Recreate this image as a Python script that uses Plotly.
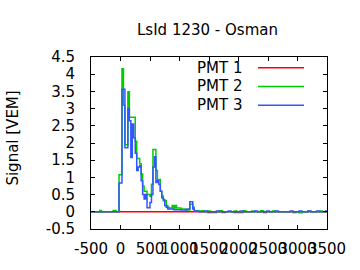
import plotly.graph_objects as go

# ---- data ----
time_ns = [
    -500, -350, -325, -125, -75,
    -25, 0, 25, 50, 75, 100, 125, 150, 175, 200,
    225, 250, 275, 300, 325, 350, 375, 400, 425, 450,
    475, 500, 525, 550, 575, 600, 625, 650, 675, 700,
    725, 750, 775, 800, 825, 850, 875, 900, 925, 950,
    975, 1000, 1025, 1050, 1075, 1100, 1125, 1150, 1175, 1200,
    1225, 1250,
    1275, 1325, 1375, 1425, 1475, 1525, 1575, 1625, 1675, 1725,
    1775, 1825, 1875, 1925, 1975, 2025, 2075, 2125, 2175, 2225,
    2275, 2325, 2375, 2425, 2475, 2525, 2575, 2625, 2675, 2725,
    2775, 2825, 2875, 2925, 2975, 3025, 3075, 3125, 3175, 3225,
    3275, 3325, 3375, 3425, 3475, 3500,
]

pmt1 = [
    0.0, 0.0, 0.0, 0.0, 0.0,
    0.0, 0.0, 0.0, 0.0, 0.0, 0.0, 0.0, 0.0, 0.0, 0.0,
    0.0, 0.0, 0.0, 0.0, 0.0, 0.0, 0.0, 0.0, 0.0, 0.0,
    0.0, 0.0, 0.0, 0.0, 0.0, 0.0, 0.0, 0.0, 0.0, 0.0,
    0.0, 0.0, 0.0, 0.0, 0.0, 0.0, 0.0, 0.0, 0.0, 0.0,
    0.0, 0.0, 0.0, 0.0, 0.0, 0.0, 0.0, 0.0, 0.0, 0.0,
    0.0, 0.0,
    0.0, 0.0, 0.0, 0.0, -0.02, -0.02, -0.02, 0.0, 0.0, -0.02,
    0.0, 0.0, 0.0, -0.02, -0.02, -0.02, 0.0, 0.0, 0.0, 0.0,
    0.0, 0.0, 0.0, -0.02, 0.0, 0.0, 0.0, 0.0, 0.0, 0.0,
    0.0, 0.0, 0.0, -0.02, 0.0, 0.0, 0.0, 0.0, 0.0, 0.0,
    0.0, 0.0, 0.0, 0.0, 0.0, 0.0,
]

pmt2 = [
    0.0, 0.04, 0.0, 0.04, 0.0,
    1.08, 1.08, 4.16, 3.10, 1.95, 1.95, 3.49, 2.75, 2.75, 2.75,
    2.75, 2.05, 1.55, 1.55, 1.40, 1.10, 0.75, 0.60, 0.60, 0.50,
    0.50, 0.45, 0.80, 1.81, 1.81, 1.20, 0.94, 0.94, 0.60, 0.46,
    0.32, 0.32, 0.18, 0.13, 0.11, 0.11, 0.18, 0.11, 0.18, 0.11,
    0.11, 0.11, 0.08, 0.08, 0.08, 0.06, 0.05, 0.05, 0.22, 0.22,
    0.13, 0.03,
    0.03, 0.02, 0.03, 0.0, 0.02, 0.0, 0.0, 0.0, 0.03, 0.0,
    0.0, 0.0, 0.0, 0.02, 0.0, 0.0, 0.03, 0.0, 0.0, 0.02,
    0.0, 0.0, 0.03, 0.0, 0.0, 0.0, 0.02, 0.0, 0.0, 0.0,
    0.0, 0.0, 0.0, 0.0, 0.0, -0.03, 0.0, 0.0, 0.02, 0.0,
    0.0, 0.0, 0.02, 0.0, 0.0, 0.0,
]

pmt3 = [
    0.0, 0.0, 0.0, 0.0, 0.0,
    0.84, 0.84, 3.56, 3.56, 1.86, 1.86, 3.00, 2.65, 1.58, 2.55,
    2.15, 1.70, 1.20, 1.30, 1.34, 0.90, 0.50, 0.37, 0.50, 0.12,
    0.12, 0.27, 0.50, 1.30, 1.60, 0.85, 0.90, 0.79, 0.60, 0.41,
    0.36, 0.18, 0.13, 0.08, 0.08, 0.08, 0.08, 0.06, 0.06, 0.06,
    0.06, 0.06, 0.05, 0.05, 0.05, 0.05, 0.08, 0.08, 0.29, 0.29,
    0.08, 0.02,
    0.02, 0.0, 0.0, 0.02, 0.0, 0.0, 0.0, 0.02, 0.0, 0.0,
    0.0, 0.02, 0.0, 0.0, 0.0, 0.02, 0.0, 0.0, 0.0, 0.0,
    0.02, 0.0, 0.0, 0.0, 0.02, 0.0, 0.0, 0.02, 0.0, 0.0,
    0.0, 0.0, 0.02, 0.0, 0.0, 0.02, 0.0, 0.0, 0.02, 0.0,
    0.0, 0.02, 0.0, 0.0, 0.02, 0.02,
]

series_names = ["PMT 1", "PMT 2", "PMT 3"]
series_colors = ["#ff0000", "#00cc00", "#3355ff"]

x_tick_vals = [-500, 0, 500, 1000, 1500, 2000, 2500, 3000, 3500]
x_tick_text = ["-500", "0", "500", "1000", "1500", "2000", "2500", "3000", "3500"]
y_tick_vals = [-0.5, 0, 0.5, 1, 1.5, 2, 2.5, 3, 3.5, 4, 4.5]
y_tick_text = ["-0.5", "0", "0.5", "1", "1.5", "2", "2.5", "3", "3.5", "4", "4.5"]

title_text = "LsId 1230 - Osman"
y_title = "Signal [VEM]"

# ---- layout geometry (pixels) ----
W, H = 360, 270
L, R, T, B = 91, 33, 57, 38
PW, PH = W - L - R, H - T - B
FONT = "DejaVu Sans"


def px(xp):
    return (xp - L) / PW


def py(yp):
    return (H - B - yp) / PH


fig = go.Figure()
for name, vals, col in zip(series_names, [pmt1, pmt2, pmt3], series_colors):
    fig.add_trace(go.Scatter(
        x=time_ns, y=vals, mode="lines", name=name,
        line=dict(color=col, width=1.5, shape="hv"),
        showlegend=False,
    ))

annotations = [
    dict(text=title_text, x=px(207), y=py(30), xref="paper", yref="paper",
         xanchor="center", yanchor="middle", showarrow=False,
         font=dict(family=FONT, size=15, color="black")),
    dict(text=y_title, x=px(13), y=py(140), xref="paper", yref="paper",
         xanchor="center", yanchor="middle", showarrow=False, textangle=-90,
         font=dict(family=FONT, size=15, color="black")),
]
shapes = []
legend_rows = [68, 87, 106]
for name, col, ry in zip(series_names, series_colors, legend_rows):
    annotations.append(dict(text=name, x=px(244), y=py(ry), xref="paper", yref="paper",
                            xanchor="right", yanchor="middle", showarrow=False,
                            font=dict(family=FONT, size=15, color="black")))
    shapes.append(dict(type="line", xref="paper", yref="paper",
                       x0=px(258), x1=px(304), y0=py(ry), y1=py(ry),
                       line=dict(color=col, width=1.5)))

axis_common = dict(
    showline=True, linecolor="black", linewidth=1, mirror="ticks",
    ticks="inside", ticklen=4, tickcolor="black", tickwidth=1,
    showgrid=False, zeroline=False,
    tickfont=dict(family=FONT, size=15, color="black"),
    tickangle=0,
)

fig.update_layout(
    width=W, height=H,
    margin=dict(l=L, r=R, t=T, b=B, pad=0),
    paper_bgcolor="white", plot_bgcolor="white",
    xaxis=dict(range=[-500, 3500], tickmode="array", tickvals=x_tick_vals,
               ticktext=x_tick_text, ticklabelstandoff=6, **axis_common),
    yaxis=dict(range=[-0.5, 4.5], tickmode="array", tickvals=y_tick_vals,
               ticktext=y_tick_text, ticklabelstandoff=12, **axis_common),
    annotations=annotations,
    shapes=shapes,
    showlegend=False,
)

fig.write_html("out.html")
